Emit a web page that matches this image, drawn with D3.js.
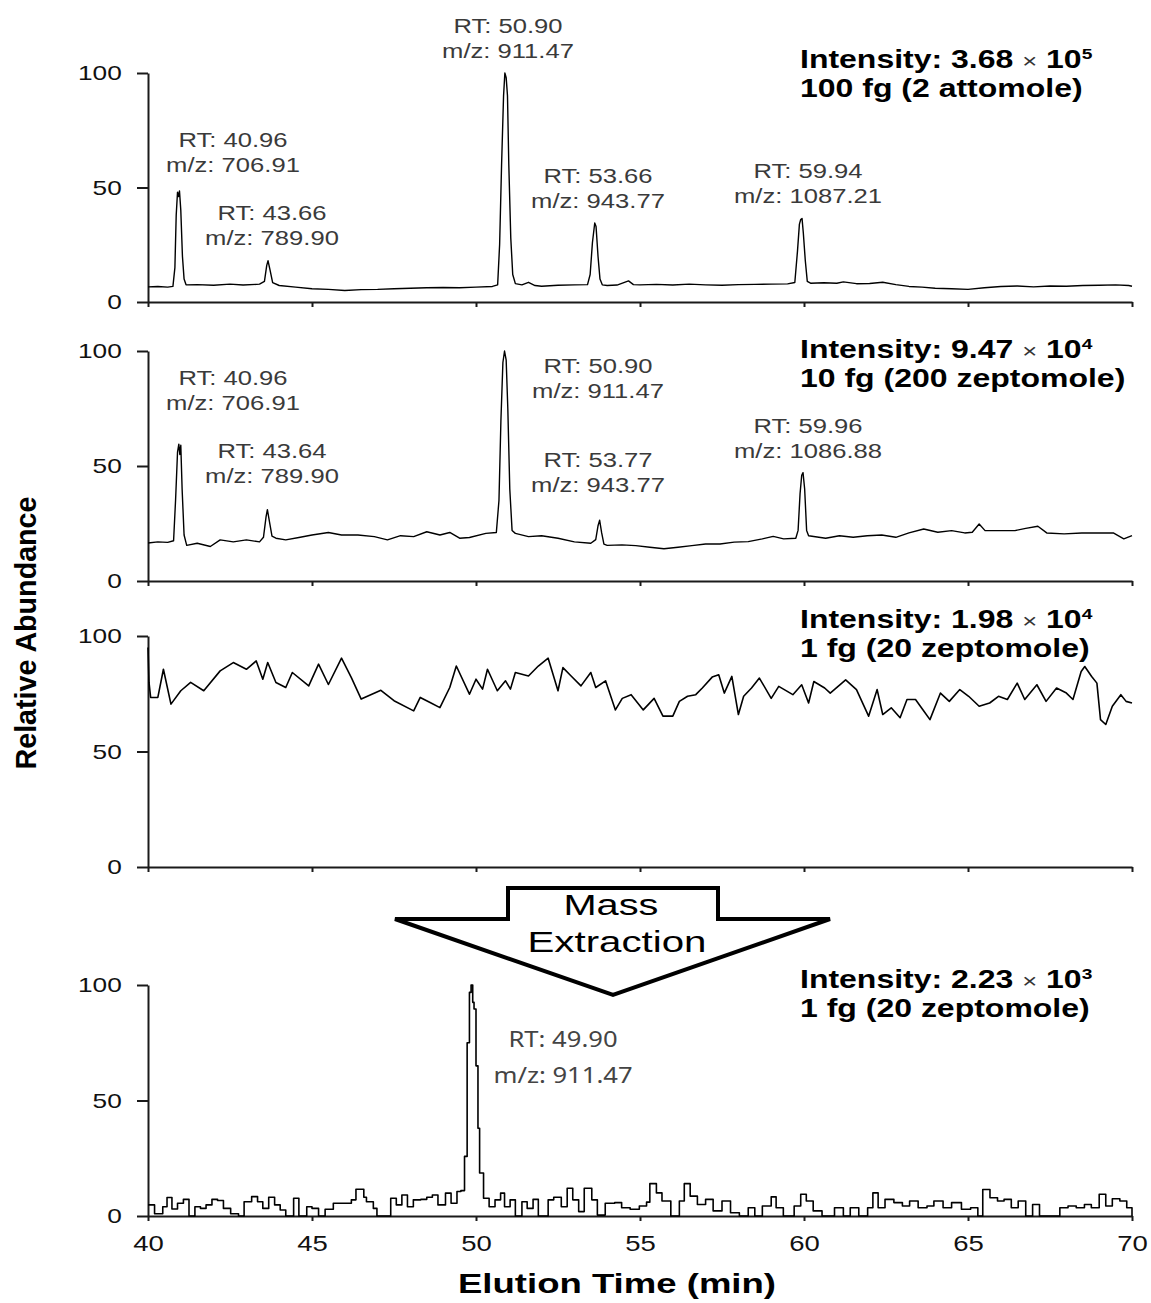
<!DOCTYPE html>
<html>
<head>
<meta charset="utf-8">
<title>Elution profiles</title>
<script src="https://cdn.jsdelivr.net/npm/d3@7"></script>
<style>
  body { margin: 0; background: #fff; }
  svg { display: block; background: #fff; font-family: "Liberation Sans", Arial, sans-serif; }
  .axis path, .axis line { stroke: #1a1a1a; stroke-width: 2px; }
  .axis text { fill: #111; font-size: 21px; font-family: "Liberation Sans", Arial, sans-serif; }
  .trace { fill: none; stroke: #000; stroke-width: 1.4px; stroke-linejoin: round; }
  .trace.noisy { stroke-width: 1.6px; }
  .rt { fill: #3a3a3a; font-size: 21px; }
  .rt2 { fill: #444; font-size: 21px; font-family: "Noto Sans", sans-serif; }
  .info { fill: #000; font-size: 25px; font-weight: bold; }
  .title { fill: #000; font-weight: bold; }
</style>
</head>
<body>
<svg width="1151" height="1303"></svg>
<script>
// ---- data ----
const xTicks = [40, 45, 50, 55, 60, 65, 70];
const yTicks = [0, 50, 100];

// [elution time (min), relative abundance]
const trace100fg = [[40.0,6.6],[40.3,6.8],[40.6,6.5],[40.76,6.8],[40.82,15],[40.86,38],[40.9,48],[40.93,46],[40.96,48.5],[41.0,40],[41.05,20],[41.1,10],[41.16,7.5],[41.5,7.6],[42.0,7.3],[42.5,7.8],[42.9,7.4],[43.4,7.8],[43.55,9],[43.62,16],[43.66,18],[43.72,14],[43.8,8.5],[44.0,7.2],[44.5,6.5],[45.0,5.8],[45.5,5.5],[46.0,5],[46.5,5.4],[47.0,5.5],[47.5,5.8],[48.0,6],[48.5,6.2],[49.0,6.3],[49.5,6.2],[50.0,6.5],[50.5,6.8],[50.66,7.5],[50.72,25],[50.78,60],[50.84,90],[50.88,100],[50.92,98],[50.96,90],[51.0,60],[51.06,28],[51.12,12],[51.2,8],[51.4,7.5],[51.6,8.6],[51.8,7.2],[52.0,6.9],[52.5,7.3],[53.0,7.5],[53.4,7.6],[53.48,12],[53.55,26],[53.62,34.5],[53.66,33],[53.72,20],[53.78,10],[53.85,7.5],[54.0,7.2],[54.3,7.4],[54.65,9.2],[54.8,7.6],[55.0,7.5],[55.5,7.7],[56.0,7.4],[56.5,7.8],[57.0,7.5],[57.5,7.3],[58.0,7.6],[58.5,7.7],[59.0,7.8],[59.5,7.9],[59.72,8.5],[59.8,22],[59.86,34],[59.9,36],[59.94,36.5],[59.98,30],[60.04,18],[60.1,9],[60.2,8.2],[60.6,8.4],[61.0,8.2],[61.2,8.8],[61.6,8],[62.0,8.1],[62.4,8.6],[62.8,7.6],[63.2,6.8],[63.6,6.5],[64.0,6],[64.5,5.8],[65.0,5.5],[65.5,6.2],[66.0,6.8],[66.5,7],[67.0,6.6],[67.5,7],[68.0,6.9],[68.5,7.2],[69.0,7.3],[69.5,7.5],[69.9,7.2],[70.0,6.9]];

const trace10fg = [[40.0,16.5],[40.3,17],[40.6,16.8],[40.78,17.5],[40.84,35],[40.9,56],[40.94,59.5],[40.97,55],[41.0,59],[41.04,40],[41.1,20],[41.18,15.5],[41.5,16.4],[41.9,15],[42.2,17.9],[42.6,17],[43.0,17.9],[43.4,17],[43.52,19],[43.6,28],[43.64,31],[43.7,26],[43.78,19.5],[43.9,18.6],[44.2,17.9],[44.6,18.9],[45.0,20],[45.5,21.1],[45.9,20],[46.4,20],[46.9,19.3],[47.3,17.9],[47.7,19.7],[48.1,19.3],[48.5,21.4],[48.9,20],[49.2,21.1],[49.5,18.6],[49.8,18.9],[50.3,20.7],[50.62,21.1],[50.7,35],[50.76,70],[50.82,95],[50.87,100],[50.92,96],[50.97,75],[51.03,40],[51.1,22],[51.2,20.7],[51.6,19.3],[52.0,19.7],[52.5,18.6],[53.0,17],[53.5,16.4],[53.65,18],[53.72,24],[53.77,26.4],[53.83,21],[53.9,16],[54.0,15.5],[54.45,15.7],[54.87,15.4],[55.3,14.7],[55.73,14],[56.16,14.7],[56.58,15.4],[57.0,16.1],[57.44,16.1],[57.87,16.9],[58.3,17.1],[58.73,18.3],[59.06,19.4],[59.38,18.3],[59.75,18.6],[59.82,22],[59.88,38],[59.93,46],[59.97,47.1],[60.02,40],[60.08,22],[60.14,19.7],[60.66,18.6],[61.08,19.7],[61.5,19],[61.93,19.7],[62.37,20],[62.8,19],[63.2,20.9],[63.65,22.6],[64.08,21.2],[64.5,21.9],[64.9,20.9],[65.13,21.2],[65.34,24.8],[65.52,21.9],[66.0,21.9],[66.43,21.9],[66.76,22.9],[67.13,23.8],[67.4,20.9],[67.93,20.5],[68.47,20.9],[69.0,20.9],[69.43,20.9],[69.75,18.3],[70.0,19.7]];

const trace1fg = [[40.0,95],[40.03,80],[40.08,73.4],[40.3,73.4],[40.47,85.6],[40.7,70.5],[41.0,76.3],[41.3,79.9],[41.7,76.3],[42.2,84.9],[42.6,88.5],[43.0,85.6],[43.3,89.2],[43.5,81.3],[43.65,88.5],[43.9,79.9],[44.2,77.7],[44.4,84.2],[44.9,78.4],[45.2,87.8],[45.5,79],[45.9,90.4],[46.2,82],[46.5,72.7],[47.1,76.5],[47.5,72],[48.1,67.6],[48.3,73.4],[48.6,71.2],[48.9,69],[49.2,77.7],[49.4,87],[49.8,74.8],[50.0,81.3],[50.2,77],[50.35,85.6],[50.65,76.3],[50.9,80.6],[51.05,77],[51.2,84.2],[51.6,82.7],[51.9,87],[52.2,90.4],[52.5,76.3],[52.65,86.3],[52.9,82.7],[53.2,78.4],[53.5,84.2],[53.65,77.7],[53.95,80.6],[54.25,68],[54.46,73],[54.73,74.6],[55.1,68],[55.43,73],[55.7,65.3],[56.0,65.3],[56.2,71.7],[56.45,73.9],[56.7,74.6],[56.9,77.5],[57.2,82.2],[57.4,83.2],[57.57,75.3],[57.8,82.5],[58.0,66],[58.16,73.9],[58.4,77.5],[58.64,81.8],[59.0,73],[59.23,78.2],[59.66,74.6],[59.93,78.9],[60.14,71],[60.3,80.3],[60.63,77.5],[60.8,75.3],[61.27,81],[61.6,76.8],[61.97,65.3],[62.23,76.8],[62.4,66],[62.66,68.9],[62.93,64.6],[63.14,72.5],[63.4,72.5],[63.63,68],[63.84,63.8],[64.16,75.3],[64.43,71.7],[64.75,76.8],[65.02,73.9],[65.34,69.6],[65.66,71],[65.93,73.9],[66.2,72.5],[66.5,79.6],[66.73,72.5],[67.1,78.9],[67.38,71.7],[67.7,77.5],[68.0,75.3],[68.2,72.5],[68.45,84.6],[68.56,86.8],[68.77,82.5],[68.93,79.6],[69.04,63.8],[69.2,61.7],[69.4,69.6],[69.66,74.6],[69.82,71.7],[70.0,71]];

const traceXic = [[40.0,4.8],[40.2,1],[40.45,4],[40.58,8],[40.73,3],[40.9,5.5],[41.08,7.2],[41.25,0],[41.43,4],[41.6,3.3],[41.77,4.8],[41.95,7.2],[42.12,6.7],[42.3,3.3],[42.52,1],[42.76,0],[42.93,6.2],[43.16,8.4],[43.34,6.2],[43.5,3.3],[43.68,8.1],[43.86,4.8],[44.03,2.6],[44.2,0],[44.44,7.7],[44.6,0],[44.84,4],[45.0,3.3],[45.2,0],[45.4,2.9],[45.65,5.5],[45.94,5.5],[46.2,7],[46.34,11.6],[46.58,8.1],[46.66,6.2],[46.87,3.3],[46.98,0],[47.4,7.7],[47.57,4.8],[47.74,9.1],[47.91,4],[48.09,7],[48.32,7.2],[48.5,8.1],[48.67,9.1],[48.84,4.8],[49.07,9.9],[49.24,5.5],[49.42,10.6],[49.54,11],[49.65,25.8],[49.73,75],[49.8,96.8],[49.85,100],[49.9,92.5],[49.94,89.6],[50.0,65],[50.06,38],[50.11,18.6],[50.23,7.7],[50.4,4],[50.58,7],[50.75,9.9],[50.87,4],[51.04,7],[51.2,0],[51.4,6.2],[51.56,3.3],[51.74,7.2],[51.9,0],[52.2,7],[52.37,8.1],[52.6,4],[52.78,12],[52.95,7],[53.13,1.9],[53.3,12],[53.53,7],[53.7,0.4],[53.94,5.5],[54.23,5.8],[54.44,3.6],[54.7,2.9],[54.98,4.3],[55.2,6],[55.3,14],[55.5,10],[55.67,6.5],[55.94,0],[56.2,6.5],[56.35,14],[56.53,8.6],[56.75,5],[57.0,7.2],[57.23,2.2],[57.5,6.5],[57.76,1.4],[58.03,0],[58.3,3.6],[58.5,0],[58.73,4.3],[59.0,8.3],[59.15,3.6],[59.37,0],[59.7,4.3],[59.9,9.4],[60.07,6.5],[60.28,2.2],[60.55,0],[60.93,3.6],[61.2,0],[61.41,3.6],[61.67,0],[61.94,3.6],[62.1,10],[62.26,3.6],[62.47,7.2],[62.74,5.8],[63.0,4.3],[63.22,6.5],[63.48,3.6],[63.75,4.3],[63.96,6.5],[64.24,3.6],[64.5,5.8],[64.8,2.9],[65.08,3.6],[65.3,0],[65.45,11.5],[65.67,7.9],[65.9,6.5],[66.1,7.2],[66.32,3.6],[66.53,6.5],[66.76,0],[66.97,5],[67.18,0],[67.8,3.6],[68.05,4.3],[68.3,3.6],[68.55,5],[68.76,3.6],[69.0,9.4],[69.2,4.3],[69.4,7.5],[69.63,6.5],[69.84,3.6],[70.0,0]];

// peak labels: [retention time, m/z]
const peaks100fg = [["40.96","706.91"],["43.66","789.90"],["50.90","911.47"],["53.66","943.77"],["59.94","1087.21"]];
const peaks10fg = [["40.96","706.91"],["43.64","789.90"],["50.90","911.47"],["53.77","943.77"],["59.96","1086.88"]];
const peaksXic = [["49.90","911.47"]];

// intensity labels: [mantissa, exponent, amount]
const intensityInfo = [["3.68","5","100 fg (2 attomole)"],["9.47","4","10 fg (200 zeptomole)"],["1.98","4","1 fg (20 zeptomole)"],["2.23","3","1 fg (20 zeptomole)"]];

// ---- layout ----
const panelY = [[73, 302], [351, 581], [636, 867], [985, 1216]];   // [top(100), bottom(0)]
const infoY = [68, 358, 628, 988];
const labelPos = [
  [[233,147],[272,220],[508,33],[598,183],[808,178]],
  [[233,385],[272,458],[598,373],[598,467],[808,433]],
  [],
  [[563,1047]]
];

const svg = d3.select("svg");
const x = d3.scaleLinear().domain([40, 70]).range([148, 1132]);

const panels = [
  {trace: trace100fg, peaks: peaks100fg, curve: d3.curveLinear, noisy: false},
  {trace: trace10fg, peaks: peaks10fg, curve: d3.curveLinear, noisy: false},
  {trace: trace1fg, peaks: [], curve: d3.curveLinear, noisy: true},
  {trace: traceXic, peaks: peaksXic, curve: d3.curveStepAfter, noisy: true}
];

panels.forEach((p, i) => {
  const y = d3.scaleLinear().domain([0, 100]).range([panelY[i][1], panelY[i][0]]);
  const last = i === panels.length - 1;

  const ya = svg.append("g").attr("class", "axis")
    .attr("transform", `translate(${x(40)},0)`)
    .call(d3.axisLeft(y).tickValues(yTicks).tickSize(11).tickSizeOuter(0).tickPadding(10));
  ya.selectAll("text").attr("transform", "scale(1.25,1)");

  const xa = svg.append("g").attr("class", "axis")
    .attr("transform", `translate(0,${y(0)})`)
    .call(d3.axisBottom(x).tickValues(xTicks).tickSize(5).tickSizeOuter(0).tickPadding(14)
      .tickFormat(last ? d3.format("d") : () => ""));
  xa.selectAll("text").style("font-size", "22px").attr("transform", "scale(1.25,1)");

  const line = d3.line().x(d => x(d[0])).y(d => y(d[1])).curve(p.curve);
  svg.append("path").datum(p.trace).attr("class", p.noisy ? "trace noisy" : "trace").attr("d", line);

  // peak labels
  const gap = last ? 36 : 25;
  p.peaks.forEach((pk, k) => {
    const [lx, ly] = labelPos[i][k];
    const t = svg.append("g").attr("transform", `translate(${lx},${ly}) scale(1.22,1)`)
      .attr("class", last ? "rt2" : "rt").attr("text-anchor", "middle");
    t.append("text").text(`RT: ${pk[0]}`);
    t.append("text").attr("y", gap).text(`m/z: ${pk[1]}`);
  });

  // intensity / amount
  const info = intensityInfo[i];
  const g = svg.append("g").attr("class", "info").attr("transform", `translate(800,${infoY[i]}) scale(1.28,1)`);
  const t1 = g.append("text");
  t1.append("tspan").text(`Intensity: ${info[0]} `);
  t1.append("tspan").style("font-weight", "normal").style("font-size", "20px").attr("fill", "#333").text("\u00d7");
  t1.append("tspan").text(" 10");
  t1.append("tspan").attr("dy", -9).style("font-size", "15px").text(info[1]);
  g.append("text").attr("y", 29).text(info[2]);
});

// Mass extraction arrow
const arrow = [[508,888],[718,888],[718,919],[830,919],[613,995],[395,919],[508,919]];
svg.append("polygon").attr("points", arrow.map(d => d.join(",")).join(" "))
  .attr("fill", "#fff").attr("stroke", "#000").attr("stroke-width", 4).attr("stroke-linejoin", "miter");
svg.append("text").attr("x", 611).attr("y", 915).attr("text-anchor", "middle")
  .style("font-size", "29px").attr("textLength", 95).attr("lengthAdjust", "spacingAndGlyphs").text("Mass");
svg.append("text").attr("x", 617).attr("y", 952).attr("text-anchor", "middle")
  .style("font-size", "29px").attr("textLength", 179).attr("lengthAdjust", "spacingAndGlyphs").text("Extraction");

// axis titles
svg.append("text").attr("class", "title")
  .attr("transform", "translate(36,633) scale(1.2,1) rotate(-90)")
  .attr("text-anchor", "middle").style("font-size", "24px")
  .attr("textLength", 273).attr("lengthAdjust", "spacingAndGlyphs")
  .text("Relative Abundance");
svg.append("text").attr("class", "title")
  .attr("x", 617).attr("y", 1293).attr("text-anchor", "middle").style("font-size", "28px")
  .attr("textLength", 318).attr("lengthAdjust", "spacingAndGlyphs")
  .text("Elution Time (min)");
</script>
</body>
</html>
